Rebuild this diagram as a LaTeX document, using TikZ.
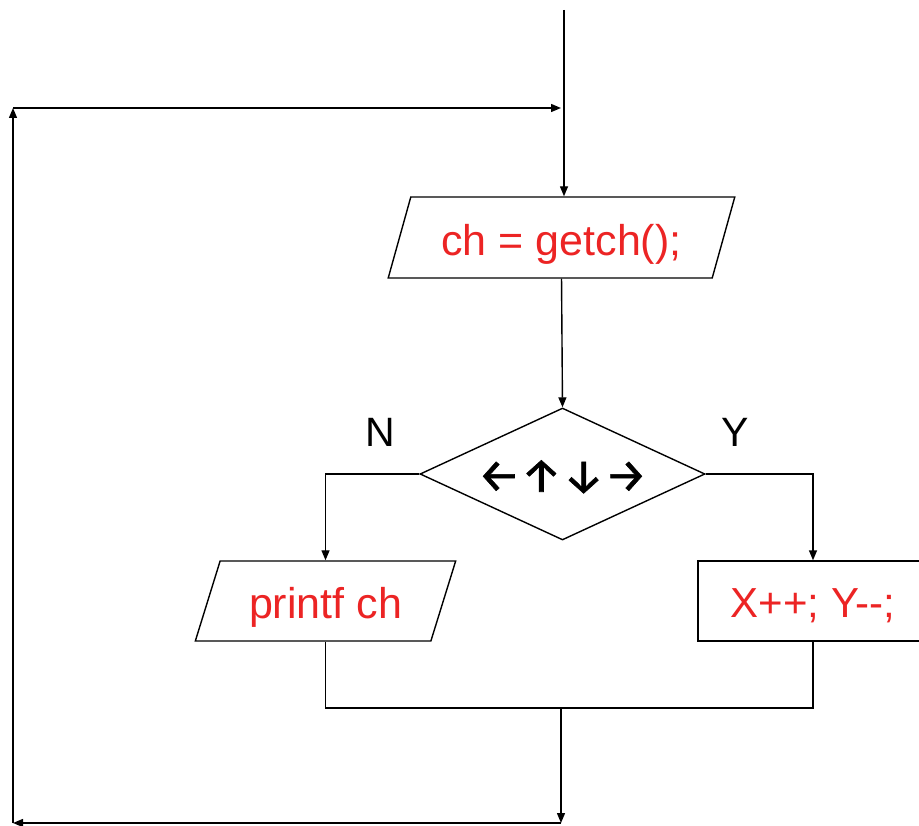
\documentclass[tikz,border=0pt]{standalone}
\usepackage{fontspec}
\setmainfont{Liberation Sans}
\newfontfamily\arrowfont{Fira Sans}[FakeBold=1.2]
\usetikzlibrary{shapes.geometric,arrows.meta}
\definecolor{txtred}{RGB}{236,36,36}
\newcommand{\lowertext}[1]{\raisebox{-2pt}[\height][0pt]{#1}}
\begin{document}
\begin{tikzpicture}[x=1pt,y=-1pt,
  line width=1.4pt,
  arr/.style={-{Triangle[length=10pt,width=8pt]}},
  para/.style={draw, shape=trapezium, trapezium left angle=60, trapezium right angle=120,
    trapezium stretches=true, inner sep=0pt, text=txtred,
    font=\fontsize{43}{47}\selectfont},
  boxnode/.style={draw, rectangle, inner sep=0pt, text=txtred,
    font=\fontsize{42}{46}\selectfont},
  decide/.style={draw, diamond, inner sep=0pt, shape aspect=2.16,
    minimum width=285pt, minimum height=132pt},
  lbl/.style={font=\fontsize{41}{45}\selectfont}]
\clip (0,0) rectangle (919,826);
\fill[white] (0,0) rectangle (919,826);
\node[para, minimum width=347pt, minimum height=81pt] (p1) at (561.5,237.5) {\lowertext{ch = getch();}};
\node[decide] (d) at (562.5,474) {\arrowfont\fontsize{47}{50}\selectfont\lowertext{←↑↓→}};
\node[para, minimum width=261pt, minimum height=80pt] (p2) at (325.5,601) {\lowertext{printf ch}};
\node[boxnode, minimum width=230pt, minimum height=80pt] (r) at (813,601) {\lowertext{X++; Y-{}-;}};
\node[lbl] (n) at (380,432) {N};
\node[lbl] (y) at (735,432) {Y};
\coordinate (start) at (564,10);
\coordinate (tr) at (561,108);
\coordinate (tl) at (13,108);
\coordinate (bl) at (13,823);
\coordinate (j) at (561,708);
\coordinate (br) at (561,823);
\draw[arr] (start) -- (start |- p1.north);
\draw[arr] (p1.south) -- (d.north);
\draw[arr] (d.west) -| (p2.north);
\draw[arr] (d.east) -| (r.north);
\draw (p2.south) |- (j) -| (r.south);
\draw[arr] (j) -- (br);
\draw[arr] (br) -- (bl);
\draw[arr] (bl) -- (tl);
\draw[arr] (tl) -- (tr);
\end{tikzpicture}
\end{document}
